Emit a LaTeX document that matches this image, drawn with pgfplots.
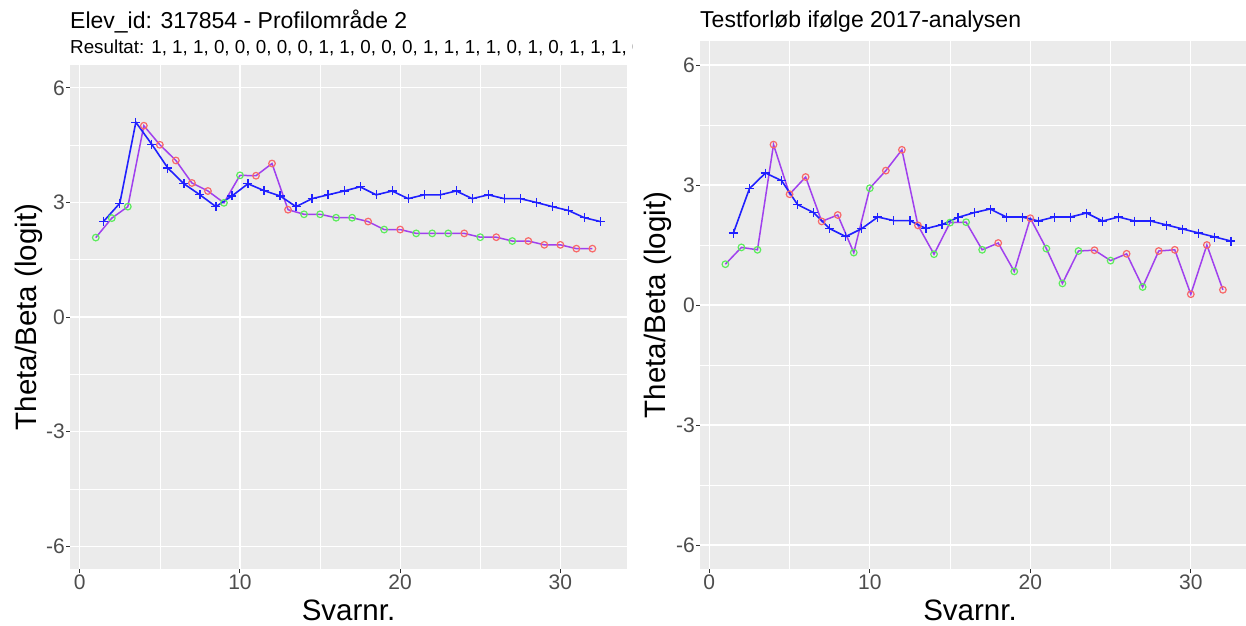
\documentclass[border=0pt]{standalone}
\usepackage{fontspec}
\setmainfont{Liberation Sans}
\usepackage{pgfplots}
\usepackage{pgfplotstable}
\pgfplotsset{compat=1.18}
\definecolor{ggbg}{HTML}{EBEBEB}
\definecolor{ggtick}{HTML}{333333}
\definecolor{gglab}{HTML}{4D4D4D}
\definecolor{ggpurple}{HTML}{A040EE}
\definecolor{ggreen}{HTML}{5CEB5C}
\definecolor{gred}{HTML}{F86868}
\definecolor{ggblue}{HTML}{2020FF}

\pgfplotstableread{
x y c
1 2.08 g
2 2.59 g
3 2.89 g
4 5.01 r
5 4.51 r
6 4.10 r
7 3.51 r
8 3.30 r
9 2.99 g
10 3.71 g
11 3.70 r
12 4.02 r
13 2.81 r
14 2.69 g
15 2.69 g
16 2.60 g
17 2.60 g
18 2.50 r
19 2.29 g
20 2.29 r
21 2.19 g
22 2.19 g
23 2.19 g
24 2.19 r
25 2.09 g
26 2.09 r
27 1.99 g
28 1.99 r
29 1.89 r
30 1.89 r
31 1.79 r
32 1.79 r
}\leftP

\pgfplotstableread{
x y
1.5 2.51
2.5 2.98
3.5 5.10
4.5 4.52
5.5 3.90
6.5 3.49
7.5 3.20
8.5 2.89
9.5 3.17
10.5 3.49
11.5 3.31
12.5 3.17
13.5 2.89
14.5 3.10
15.5 3.20
16.5 3.30
17.5 3.41
18.5 3.20
19.5 3.30
20.5 3.10
21.5 3.20
22.5 3.20
23.5 3.30
24.5 3.10
25.5 3.20
26.5 3.10
27.5 3.10
28.5 3.00
29.5 2.89
30.5 2.79
31.5 2.60
32.5 2.50
}\leftB

\pgfplotstableread{
x y c
1 1.02 g
2 1.44 g
3 1.38 g
4 4.01 r
5 2.77 r
6 3.20 r
7 2.09 r
8 2.25 r
9 1.31 g
10 2.92 g
11 3.36 r
12 3.88 r
13 1.99 r
14 1.27 g
15 2.06 g
16 2.07 g
17 1.38 g
18 1.55 r
19 0.84 g
20 2.17 r
21 1.41 g
22 0.54 g
23 1.35 g
24 1.37 r
25 1.11 g
26 1.28 r
27 0.45 g
28 1.35 r
29 1.38 r
30 0.27 r
31 1.50 r
32 0.38 r
}\rightP

\pgfplotstableread{
x y
1.5 1.80
2.5 2.91
3.5 3.30
4.5 3.11
5.5 2.51
6.5 2.31
7.5 1.91
8.5 1.71
9.5 1.91
10.5 2.20
11.5 2.11
12.5 2.11
13.5 1.91
14.5 2.01
15.5 2.19
16.5 2.31
17.5 2.40
18.5 2.20
19.5 2.20
20.5 2.10
21.5 2.20
22.5 2.20
23.5 2.30
24.5 2.10
25.5 2.20
26.5 2.10
27.5 2.10
28.5 2.00
29.5 1.90
30.5 1.80
31.5 1.70
32.5 1.60
}\rightB

\pgfplotsset{ggstyle/.style={
  scale only axis,
  axis background/.style={fill=ggbg},
  axis line style={draw=none},
  ymin=-6.6, ymax=6.6,
  ytick={-6,-3,0,3,6}, yticklabels={-6,-3,0,3,6},
  xtick={0,10,20,30}, xticklabels={0,10,20,30},
  minor xtick={5,15,25}, minor ytick={-4.5,-1.5,1.5,4.5},
  grid=both,
  major grid style={white, line width=1.1pt},
  minor grid style={white, line width=0.55pt},
  tick align=outside,
  major tick length=4pt, minor tick length=0pt,
  tick style={color=ggtick, line width=1pt},
  xtick pos=left, ytick pos=left,
  ticklabel style={font=\fontsize{21}{24}\selectfont, color=gglab},
  yticklabel style={inner xsep=1pt},
  xticklabel style={inner ysep=2pt},
  /pgf/number format/assume math mode=true,
  clip=true,
}}

\begin{document}
\begin{tikzpicture}[x=1pt,y=1pt]
\useasboundingbox (0,0) rectangle (1246,625);
\fill[white] (0,0) rectangle (1246,625);

% left panel
\begin{axis}[ggstyle, at={(70pt,56pt)}, anchor=south west,
  width=557pt, height=504pt, xmin=-0.61, xmax=34.16]
\addplot[color=ggpurple, line width=1.5pt, no markers] table[x=x,y=y] {\leftP};
\addplot[only marks, scatter, scatter src=explicit symbolic,
  scatter/classes={g={mark=o,draw=ggreen}, r={mark=o,draw=gred}},
  mark size=3.3pt, mark options={line width=1.2pt}] table[x=x,y=y,meta=c] {\leftP};
\addplot[color=ggblue, line width=1.6pt, mark=+, mark size=4.5pt,
  mark options={line width=1.2pt}] table[x=x,y=y] {\leftB};
\end{axis}

% right panel
\begin{axis}[ggstyle, at={(700pt,56pt)}, anchor=south west,
  width=546pt, height=528pt, xmin=-0.58, xmax=33.44]
\addplot[color=ggpurple, line width=1.5pt, no markers] table[x=x,y=y] {\rightP};
\addplot[only marks, scatter, scatter src=explicit symbolic,
  scatter/classes={g={mark=o,draw=ggreen}, r={mark=o,draw=gred}},
  mark size=3.3pt, mark options={line width=1.2pt}] table[x=x,y=y,meta=c] {\rightP};
\addplot[color=ggblue, line width=1.6pt, mark=+, mark size=4.5pt,
  mark options={line width=1.2pt}] table[x=x,y=y] {\rightB};
\end{axis}

% titles
\node[anchor=base west, inner sep=0pt, font=\fontsize{23}{27}\selectfont] at (70,596) {Elev\_id: 317854 - Profilområde 2};
\begin{scope}
\clip (0,0) rectangle (632,625);
\node[anchor=base west, inner sep=0pt, font=\fontsize{18.8}{22}\selectfont] at (70,571) {Resultat: 1, 1, 1, 0, 0, 0, 0, 0, 1, 1, 0, 0, 0, 1, 1, 1, 1, 0, 1, 0, 1, 1, 1, 0, 1, 0, 1, 0, 0, 0, 0, 0};
\end{scope}
\node[anchor=base west, inner sep=0pt, font=\fontsize{23}{27}\selectfont] at (700,597) {Testforløb ifølge 2017-analysen};

% axis labels
\node[rotate=90, inner sep=0pt, font=\fontsize{29.5}{33}\selectfont] at (29,308) {Theta/Beta (logit)};
\node[rotate=90, inner sep=0pt, font=\fontsize{29.5}{33}\selectfont] at (658,320) {Theta/Beta (logit)};
\node[anchor=base, inner sep=0pt, font=\fontsize{29.5}{33}\selectfont] at (348.5,5) {Svarnr.};
\node[anchor=base, inner sep=0pt, font=\fontsize{29.5}{33}\selectfont] at (970,5) {Svarnr.};
\end{tikzpicture}
\end{document}
